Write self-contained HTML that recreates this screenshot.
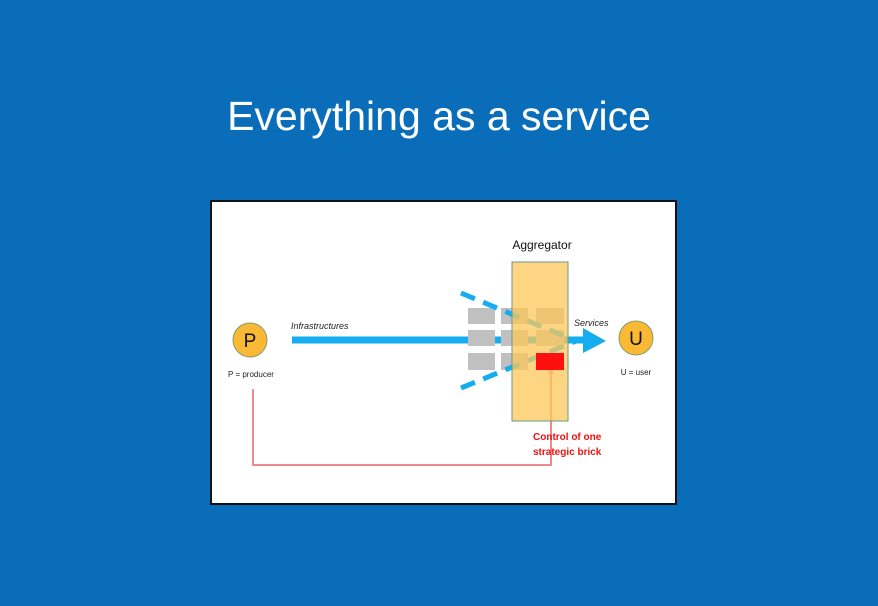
<!DOCTYPE html>
<html><head><style>
body{margin:0;width:878px;height:606px;background:#0a6dba;overflow:hidden;font-family:"Liberation Sans",sans-serif;}
h1{position:absolute;top:92px;left:0;width:878px;text-align:center;margin:0;color:#fff;font-weight:normal;font-size:41px;line-height:48px;font-family:"Liberation Sans",sans-serif;}
</style></head><body>
<h1>Everything as a service</h1>
<svg style="position:absolute;left:0;top:0" width="878" height="606">
<rect x="211" y="201" width="465" height="303" fill="#fff" stroke="#111" stroke-width="2"/>
<polyline points="253,389 253,465 551,465 551,372" fill="none" stroke="#f08a8a" stroke-width="2"/>
<polygon points="551,366 548,374 554,374" fill="#f08a8a"/>
<line x1="292" y1="340" x2="590" y2="340" stroke="#14aef0" stroke-width="7"/>
<polygon points="583,328 606,341 583,353" fill="#14aef0"/>
<g fill="#c0c0c0">
<rect x="468" y="308" width="27" height="16"/><rect x="501" y="308" width="27" height="16"/><rect x="536" y="308" width="28" height="16"/>
<rect x="468" y="330" width="27" height="16"/><rect x="501" y="330" width="27" height="16"/><rect x="536" y="330" width="28" height="16"/>
<rect x="468" y="353" width="27" height="17"/><rect x="501" y="353" width="27" height="17"/>
</g>
<line x1="461" y1="293" x2="576" y2="341" stroke="#14aef0" stroke-width="5" stroke-dasharray="15,9"/>
<line x1="461" y1="388" x2="576" y2="341" stroke="#14aef0" stroke-width="5" stroke-dasharray="15,9"/>
<rect x="512" y="262" width="56" height="159" fill="#fdc85a" fill-opacity="0.75" stroke="#6a9a80" stroke-width="1"/>
<rect x="536" y="353" width="28" height="17" fill="#ff1010"/>
<circle cx="250" cy="340" r="17" fill="#f9b935" stroke="#8a9a70"/>
<circle cx="636" cy="338" r="17" fill="#f9b935" stroke="#8a9a70"/>
<text x="250" y="347" text-anchor="middle" font-size="19" fill="#111">P</text>
<text x="636" y="345" text-anchor="middle" font-size="19" fill="#111">U</text>
<text x="251" y="377" text-anchor="middle" font-size="8" fill="#222">P = producer</text>
<text x="636" y="375" text-anchor="middle" font-size="8" fill="#222">U = user</text>
<text x="291" y="329" font-size="9" font-style="italic" fill="#222">Infrastructures</text>
<text x="574" y="326" font-size="9" font-style="italic" fill="#222">Services</text>
<text x="542" y="249" text-anchor="middle" font-size="12" fill="#111">Aggregator</text>
<text x="533" y="440" font-size="10" font-weight="bold" fill="#ee1111">Control of one</text>
<text x="533" y="455" font-size="10" font-weight="bold" fill="#ee1111">strategic brick</text>
</svg>
</body></html>
